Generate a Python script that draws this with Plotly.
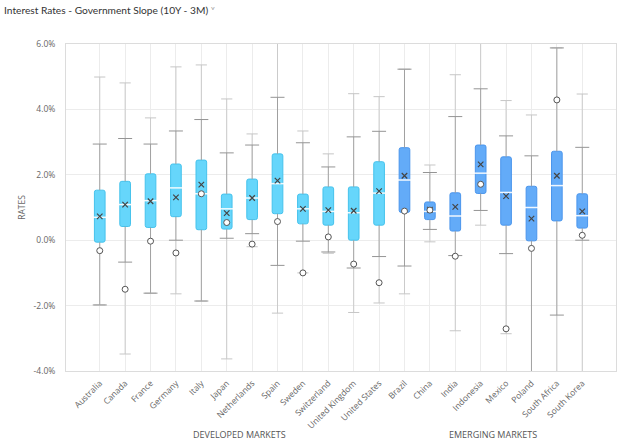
import plotly.graph_objects as go

countries = ["Australia", "Canada", "France", "Germany", "Italy", "Japan", "Netherlands",
             "Spain", "Sweden", "Switzerland", "United Kingdom", "United States",
             "Brazil", "China", "India", "Indonesia", "Mexico", "Poland", "South Africa", "South Korea"]
groups = ["DEVELOPED MARKETS"] * 12 + ["EMERGING MARKETS"] * 8

outer_hi = [4.99, 4.81, 3.74, 5.30, 5.36, 4.32, 3.25, 6.40, 3.34, 2.64, 4.48, 4.39,
            5.23, 2.30, 5.06, 6.40, 4.27, 3.83, 5.88, 4.47]
inner_hi = [2.94, 3.11, 2.94, 3.34, 3.69, 2.67, 2.91, 4.37, 2.98, 2.24, 3.16, 3.33,
            5.23, 2.07, 3.78, 4.63, 3.19, 2.58, 5.88, 2.84]
q3 = [1.53, 1.80, 2.03, 2.33, 2.45, 1.41, 1.87, 2.64, 1.41, 1.63, 1.63, 2.40,
      2.83, 1.17, 1.45, 2.91, 2.55, 1.65, 2.72, 1.42]
median = [0.70, 1.09, 1.21, 1.60, 1.42, 0.96, 1.29, 1.73, 0.96, 0.88, 0.84, 1.44,
          1.84, 0.88, 0.74, 2.05, 1.46, 1.00, 1.67, 0.75]
mean = [0.73, 1.09, 1.19, 1.31, 1.70, 0.83, 1.29, 1.82, 0.96, 0.92, 0.90, 1.50,
        1.97, 0.93, 1.02, 2.32, 1.35, 0.66, 1.97, 0.88]
q1 = [-0.06, 0.42, 0.39, 0.72, 0.32, 0.34, 0.63, 0.81, 0.50, 0.46, 0.00, 0.46,
      0.85, 0.63, 0.28, 1.43, 0.46, -0.02, 0.59, 0.37]
inner_lo = [-1.98, -0.67, -1.62, 0.00, -1.86, 0.06, 0.20, -0.77, -0.03, -0.36, -0.85, -0.50,
            -0.79, 0.33, -0.47, 0.91, -0.41, -4.50, -2.29, 0.00]
outer_lo = [-1.98, -3.48, -1.62, -1.64, -1.86, -3.63, -0.20, -2.23, -1.00, -0.40, -2.21, -1.92,
            -1.64, -0.05, -2.77, 0.46, -2.86, -4.50, -4.50, -4.50]
current = [-0.32, -1.50, -0.03, -0.39, 1.42, 0.54, -0.12, 0.57, -1.00, 0.10, -0.73, -1.30,
           0.89, 0.92, -0.49, 1.71, -2.71, -0.25, 4.29, 0.15]

y_ticks = [-4, -2, 0, 2, 4, 6]
y_ticktext = ["-4.0%", "-2.0%", "0.0%", "2.0%", "4.0%", "6.0%"]

group_fill = {"DEVELOPED MARKETS": "#66D6FB", "EMERGING MARKETS": "#63ABF8"}
group_line = {"DEVELOPED MARKETS": "#45C2EC", "EMERGING MARKETS": "#4A95EC"}

FONT = "Open Sans"

fig = go.Figure()

# outer whiskers (light)
ox, oy = [], []
for c, oh, ih, il, ol in zip(countries, outer_hi, inner_hi, inner_lo, outer_lo):
    ox += [c, c, None, c, c, None]
    oy += [oh, ih, None, il, ol, None]
fig.add_trace(go.Scatter(x=ox, y=oy, mode="lines", line=dict(color="#cbcbcb", width=1),
                         hoverinfo="skip", showlegend=False))
# inner whiskers (darker)
ix, iy = [], []
for c, ih, t, b, il in zip(countries, inner_hi, q3, q1, inner_lo):
    ix += [c, c, None, c, c, None]
    iy += [ih, t, None, b, il, None]
fig.add_trace(go.Scatter(x=ix, y=iy, mode="lines", line=dict(color="#a0a0a0", width=1),
                         hoverinfo="skip", showlegend=False))

# caps
fig.add_trace(go.Scatter(x=countries + countries, y=outer_hi + outer_lo, mode="markers",
                         marker=dict(symbol="line-ew", size=8, line=dict(color="#c6c6c6", width=1)),
                         hoverinfo="skip", showlegend=False))
fig.add_trace(go.Scatter(x=countries + countries, y=inner_hi + inner_lo, mode="markers",
                         marker=dict(symbol="line-ew", size=10, line=dict(color="#949494", width=1)),
                         hoverinfo="skip", showlegend=False))

# boxes
fig.add_trace(go.Bar(x=countries, y=[t - b for t, b in zip(q3, q1)], base=q1, width=0.42,
                     marker=dict(color=[group_fill[g] for g in groups],
                                 line=dict(color=[group_line[g] for g in groups], width=1),
                                 cornerradius=2),
                     hoverinfo="skip", showlegend=False))

# median
fig.add_trace(go.Scatter(x=countries, y=median, mode="markers",
                         marker=dict(symbol="line-ew", size=10,
                                     line=dict(color="rgba(255,255,255,0.9)", width=1.5)),
                         hoverinfo="skip", showlegend=False))
# mean
fig.add_trace(go.Scatter(x=countries, y=mean, mode="markers",
                         marker=dict(symbol="x-thin", size=5.5, line=dict(color="#444444", width=1.2)),
                         hoverinfo="skip", showlegend=False))
# current
fig.add_trace(go.Scatter(x=countries, y=current, mode="markers",
                         marker=dict(symbol="circle", size=6, color="white",
                                     line=dict(color="#555555", width=1)),
                         hoverinfo="skip", showlegend=False))

# group labels
unique_groups = []
for g in groups:
    if g not in unique_groups:
        unique_groups.append(g)
annotations = []
for g in unique_groups:
    idx = [i for i, gg in enumerate(groups) if gg == g]
    annotations.append(dict(x=(idx[0] + idx[-1]) / 2, xref="x", y=0, yref="paper",
                            yanchor="middle", yshift=-63, text=g, showarrow=False,
                            font=dict(family=FONT, size=9, color="#555555")))

fig.update_layout(
    width=640, height=447,
    margin=dict(l=66, r=24, t=44, b=76),
    paper_bgcolor="white", plot_bgcolor="white",
    font=dict(family=FONT, color="#666666"),
    title=dict(text="Interest Rates - Government Slope (10Y - 3M) <span style='color:#999999;font-size:9px'>˅</span>",
               x=4 / 640, xanchor="left", xref="container",
               y=1 - 10 / 447, yanchor="middle", yref="container",
               font=dict(family="Lato", size=10.2, color="#333333")),
    annotations=annotations,
    bargap=0.5,
)
fig.update_xaxes(type="category", categoryorder="array", categoryarray=countries,
                 tickangle=-45, tickfont=dict(size=8.5, color="#666666"),
                 showgrid=True, gridcolor="#ececec", gridwidth=1, automargin=False,
                 ticklabelstandoff=3,
                 showline=True, linecolor="#dcdcdc", mirror=True, ticks="", zeroline=False)
fig.update_yaxes(range=[-4, 6], tickvals=y_ticks, ticktext=y_ticktext,
                 tickfont=dict(size=8.5, color="#666666"), automargin=False,
                 ticklabelstandoff=8,
                 showgrid=True, gridcolor="#ececec", zeroline=False,
                 showline=True, linecolor="#dcdcdc", mirror=True, ticks="",
                 title=dict(text="RATES", font=dict(size=8.5, color="#666666"), standoff=6))

fig.write_html("out.html", config={"displayModeBar": False},
               post_script="document.body.style.margin='0';document.body.style.overflow='hidden';")
